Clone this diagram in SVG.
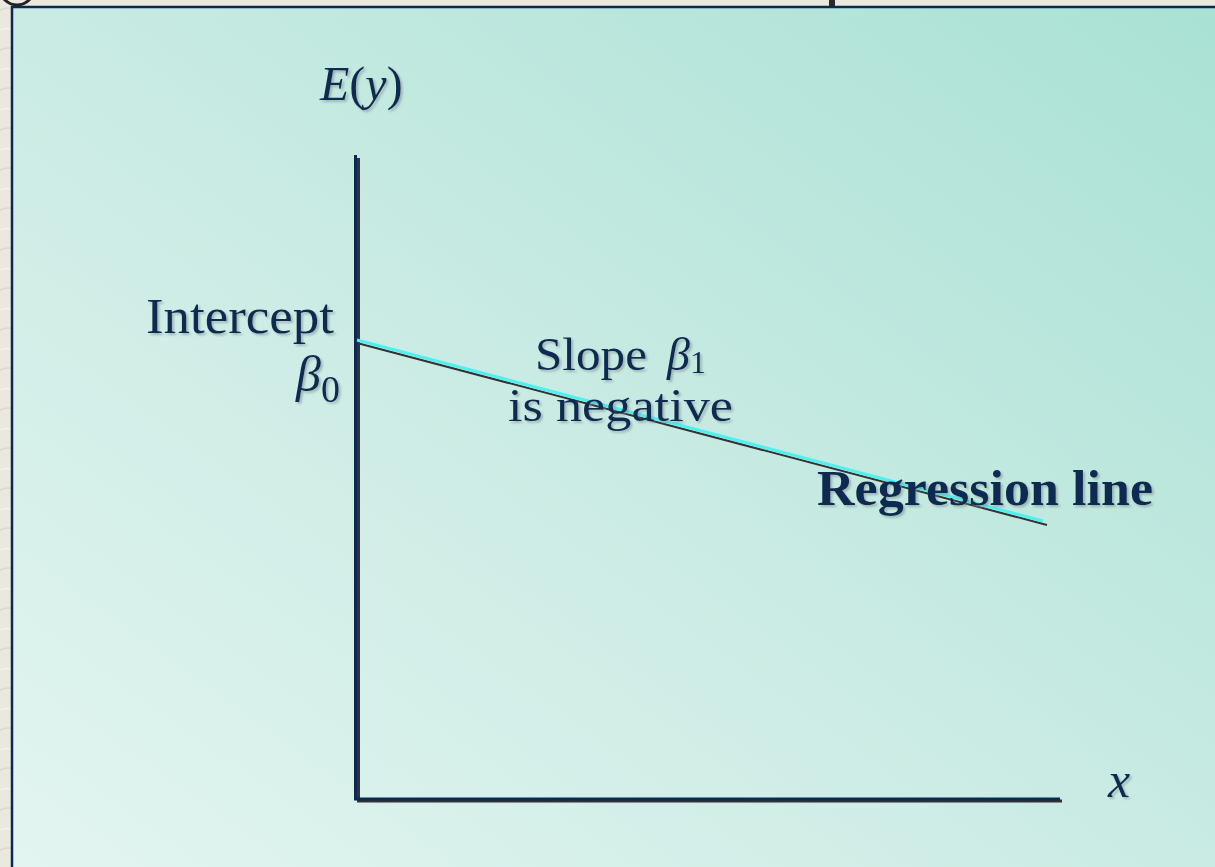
<svg xmlns="http://www.w3.org/2000/svg" width="1215" height="867" viewBox="0 0 1215 867">
  <defs>
    <linearGradient id="panel" x1="0" y1="1" x2="1" y2="0">
      <stop offset="0" stop-color="#e4f5f1"/>
      <stop offset="0.5" stop-color="#c9ebe3"/>
      <stop offset="1" stop-color="#a9e1d5"/>
    </linearGradient>
    <filter id="shadow" x="-10%" y="-20%" width="130%" height="150%">
      <feDropShadow dx="2" dy="2" stdDeviation="1.2" flood-color="#7a8a88" flood-opacity="0.55"/>
    </filter>
    <pattern id="marble" width="40" height="40" patternUnits="userSpaceOnUse">
      <rect width="40" height="40" fill="#ebe8dd"/>
      <path d="M0 10 Q10 5 20 12 T40 8" stroke="#dcd8ca" stroke-width="1.5" fill="none"/>
      <path d="M0 30 Q12 26 22 33 T40 28" stroke="#f4f2ea" stroke-width="1.5" fill="none"/>
    </pattern>
  </defs>
  <style>
    .t { font-family: "Liberation Serif", "DejaVu Serif", serif; fill: #0b2a52; filter: url(#shadow); }
    .it { font-style: italic; }
    .axis { stroke: #0b2a52; stroke-width: 3; fill: none; }
    .axshadow { stroke: #333333; stroke-width: 3; fill: none; }
  </style>

  <!-- background -->
  <rect x="0" y="0" width="1215" height="867" fill="url(#marble)"/>
  <circle cx="17" cy="-12" r="17" fill="none" stroke="#222" stroke-width="3"/>
  <rect x="829" y="0" width="6" height="7" fill="#2a2a2a"/>

  <!-- panel -->
  <rect id="panel-bg" x="12" y="7" width="1215" height="880" fill="url(#panel)" stroke="#0b2a52" stroke-width="2.5"/>

  <g id="connectors">
    <!-- axes with shadow -->
    <polyline class="axshadow" points="358.5,158 358.5,801 1062,801"/>
    <polyline class="axis" points="355.5,155 355.5,799 1060,799"/>
    <!-- regression line -->
    <line x1="357" y1="343" x2="1047" y2="525" stroke="#333" stroke-width="2"/>
    <line x1="357" y1="340" x2="1043" y2="521" stroke="#4ff0f0" stroke-width="3"/>
  </g>

  <g id="label-ey">
    <text class="t" x="320" y="100" font-size="48"><tspan class="it">E</tspan>(<tspan class="it">y</tspan>)</text>
  </g>

  <g id="label-intercept">
    <text class="t" x="146" y="333" font-size="50" textLength="188" lengthAdjust="spacingAndGlyphs">Intercept</text>
    <text class="t" x="296" y="391" font-size="50"><tspan class="it">β</tspan><tspan font-size="38" dy="11">0</tspan></text>
  </g>

  <g id="label-slope">
    <text class="t" x="535" y="370" font-size="46"><tspan textLength="112" lengthAdjust="spacingAndGlyphs">Slope</tspan><tspan x="667" class="it">β</tspan><tspan font-size="32" dy="3">1</tspan></text>
    <text class="t" x="508" y="421" font-size="46" textLength="225" lengthAdjust="spacingAndGlyphs">is negative</text>
  </g>

  <g id="label-regression">
    <text class="t" x="817" y="505" font-size="50" font-weight="bold" textLength="336" lengthAdjust="spacingAndGlyphs">Regression line</text>
  </g>

  <g id="label-x">
    <text class="t it" x="1108" y="797" font-size="50">x</text>
  </g>
</svg>
